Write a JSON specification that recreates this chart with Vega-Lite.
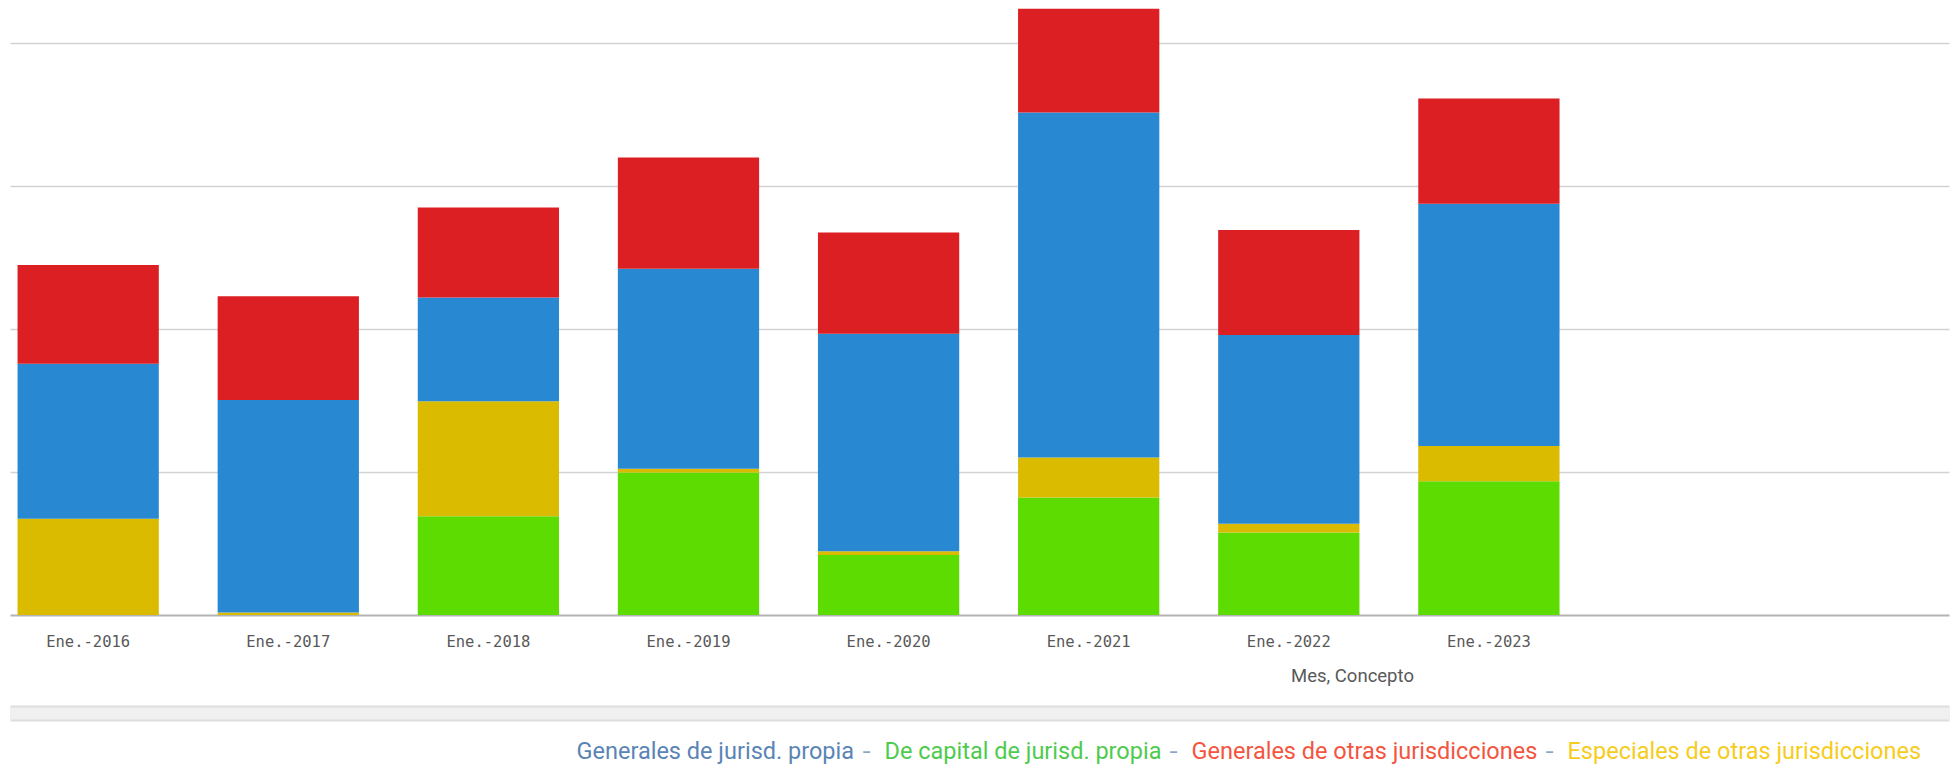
{
  "$schema": "https://vega.github.io/schema/vega-lite/v6.json",
  "width": 1939,
  "height": 615,
  "autosize": {"type": "none"},
  "padding": {"left": 10, "top": 0, "right": 10, "bottom": 157},
  "background": "white",
  "config": {"view": {"stroke": null}},
  "data": {"values": [
    {"Mes": "Ene.-2016", "Concepto": "Especiales de otras jurisdicciones", "Valor": 67.2},
    {"Mes": "Ene.-2016", "Concepto": "Generales de jurisd. propia", "Valor": 108.3},
    {"Mes": "Ene.-2016", "Concepto": "Generales de otras jurisdicciones", "Valor": 69.0},
    {"Mes": "Ene.-2017", "Concepto": "Especiales de otras jurisdicciones", "Valor": 1.7},
    {"Mes": "Ene.-2017", "Concepto": "Generales de jurisd. propia", "Valor": 148.5},
    {"Mes": "Ene.-2017", "Concepto": "Generales de otras jurisdicciones", "Valor": 72.5},
    {"Mes": "Ene.-2018", "Concepto": "De capital de jurisd. propia", "Valor": 69.0},
    {"Mes": "Ene.-2018", "Concepto": "Especiales de otras jurisdicciones", "Valor": 80.4},
    {"Mes": "Ene.-2018", "Concepto": "Generales de jurisd. propia", "Valor": 72.5},
    {"Mes": "Ene.-2018", "Concepto": "Generales de otras jurisdicciones", "Valor": 62.9},
    {"Mes": "Ene.-2019", "Concepto": "De capital de jurisd. propia", "Valor": 99.6},
    {"Mes": "Ene.-2019", "Concepto": "Especiales de otras jurisdicciones", "Valor": 2.6},
    {"Mes": "Ene.-2019", "Concepto": "Generales de jurisd. propia", "Valor": 139.7},
    {"Mes": "Ene.-2019", "Concepto": "Generales de otras jurisdicciones", "Valor": 77.7},
    {"Mes": "Ene.-2020", "Concepto": "De capital de jurisd. propia", "Valor": 41.9},
    {"Mes": "Ene.-2020", "Concepto": "Especiales de otras jurisdicciones", "Valor": 2.6},
    {"Mes": "Ene.-2020", "Concepto": "Generales de jurisd. propia", "Valor": 152.0},
    {"Mes": "Ene.-2020", "Concepto": "Generales de otras jurisdicciones", "Valor": 70.7},
    {"Mes": "Ene.-2021", "Concepto": "De capital de jurisd. propia", "Valor": 82.1},
    {"Mes": "Ene.-2021", "Concepto": "Especiales de otras jurisdicciones", "Valor": 27.9},
    {"Mes": "Ene.-2021", "Concepto": "Generales de jurisd. propia", "Valor": 241.1},
    {"Mes": "Ene.-2021", "Concepto": "Generales de otras jurisdicciones", "Valor": 72.5},
    {"Mes": "Ene.-2022", "Concepto": "De capital de jurisd. propia", "Valor": 57.6},
    {"Mes": "Ene.-2022", "Concepto": "Especiales de otras jurisdicciones", "Valor": 6.1},
    {"Mes": "Ene.-2022", "Concepto": "Generales de jurisd. propia", "Valor": 131.9},
    {"Mes": "Ene.-2022", "Concepto": "Generales de otras jurisdicciones", "Valor": 73.4},
    {"Mes": "Ene.-2023", "Concepto": "De capital de jurisd. propia", "Valor": 93.5},
    {"Mes": "Ene.-2023", "Concepto": "Especiales de otras jurisdicciones", "Valor": 24.5},
    {"Mes": "Ene.-2023", "Concepto": "Generales de jurisd. propia", "Valor": 169.4},
    {"Mes": "Ene.-2023", "Concepto": "Generales de otras jurisdicciones", "Valor": 73.4}
  ]},
  "layer": [
    {
      "mark": {"type": "bar"},
      "encoding": {
        "x": {
          "field": "Mes", "type": "nominal", "sort": null,
          "scale": {"paddingInner": 0.294, "paddingOuter": 0.992, "align": 0.019},
          "axis": {
            "orient": "bottom",
            "title": "Mes, Concepto", "labelAngle": 0, "ticks": false,
            "domainColor": "#b3b3b3", "domainWidth": 2,
            "labelFont": "DejaVu Sans Mono", "labelFontSize": 15.5, "labelColor": "#595959", "labelPadding": 19,
            "titleFont": "Roboto", "titleFontSize": 18.5, "titleFontWeight": "normal", "titleColor": "#595959",
            "titleX": 1342, "titleY": 60, "titleAlign": "center", "titleBaseline": "middle", "titleAnchor": null
          }
        },
        "y": {
          "field": "Valor", "type": "quantitative", "stack": "zero",
          "scale": {"domain": [0, 429.7], "nice": false},
          "axis": {"title": null, "labels": false, "ticks": false, "domain": false, "grid": true,
                   "values": [100, 200, 300, 400], "gridColor": "#d2d2d2", "gridWidth": 1.5}
        },
        "color": {
          "field": "Concepto", "type": "nominal",
          "scale": {
            "domain": ["Generales de jurisd. propia", "De capital de jurisd. propia", "Generales de otras jurisdicciones", "Especiales de otras jurisdicciones"],
            "range": ["#2988d2", "#5cdc00", "#dc1f23", "#dbbb00"]
          },
          "legend": {
            "orient": "none", "legendX": 537, "legendY": 740, "direction": "horizontal", "title": null,
            "symbolType": "M-1,0H1", "symbolSize": 49, "symbolFillColor": "transparent",
            "symbolStrokeColor": "#8aa6c6", "symbolStrokeWidth": 1.8,
            "symbolOpacity": {"expr": "datum.value == 'Generales de jurisd. propia' ? 0 : 1"},
            "labelOffset": 6, "columnPadding": 0, "padding": 0,
            "labelFont": "Roboto", "labelFontSize": 23.5, "labelLimit": 0,
            "labelColor": {"expr": "datum.value == 'Generales de jurisd. propia' ? '#5a84b6' : datum.value == 'De capital de jurisd. propia' ? '#4ecb4e' : datum.value == 'Generales de otras jurisdicciones' ? '#f4553f' : '#f6cc20'"}
          }
        },
        "order": {"field": "Concepto", "sort": "ascending"}
      }
    },
    {
      "mark": {"type": "bar", "opacity": 0},
      "encoding": {
        "x": {
          "field": "Mes", "type": "nominal", "sort": null,
          "axis": {"orient": "bottom", "title": null, "labels": false, "ticks": false, "grid": false, "offset": 98,
                   "domainColor": "#dedede", "domainWidth": 16}
        },
        "y": {"field": "Valor", "type": "quantitative", "stack": "zero"}
      }
    },
    {
      "mark": {"type": "bar", "opacity": 0},
      "encoding": {
        "x": {
          "field": "Mes", "type": "nominal", "sort": null,
          "axis": {"orient": "bottom", "title": null, "labels": false, "ticks": false, "grid": false, "offset": 98,
                   "domainColor": "#f0f0f0", "domainWidth": 12}
        },
        "y": {"field": "Valor", "type": "quantitative", "stack": "zero"}
      }
    }
  ],
  "resolve": {"scale": {"x": "independent"}, "axis": {"x": "independent"}}
}
